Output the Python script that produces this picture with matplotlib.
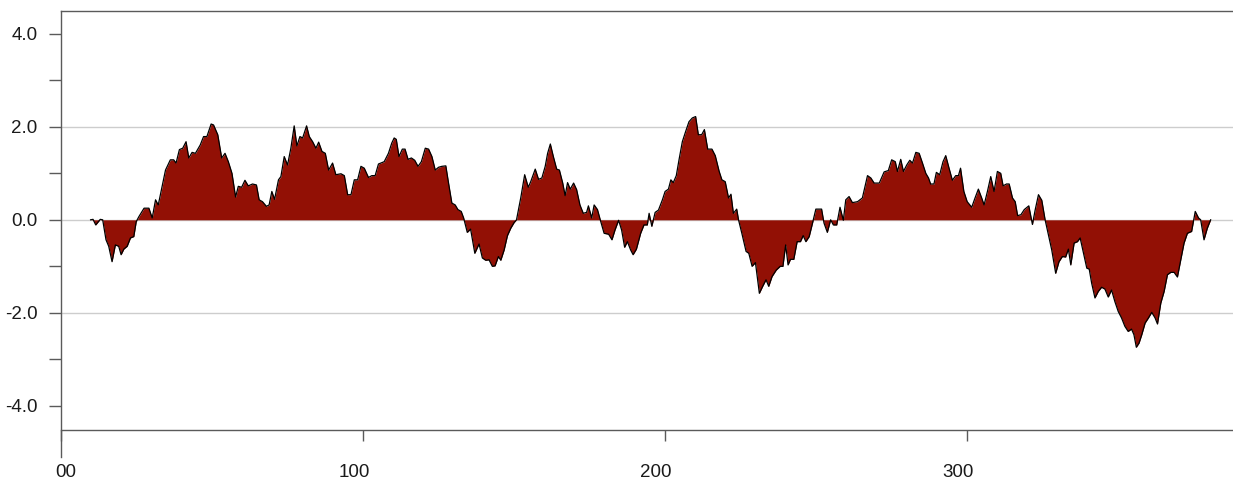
import matplotlib
matplotlib.use("Agg")
import matplotlib.pyplot as plt
import matplotlib.transforms as mtransforms
import numpy as np

# Series positions and values
days = [
    9.8, 10.6, 11.5, 13.0, 13.8, 14.9, 15.8, 16.9, 18.0, 19.1, 19.9, 20.8, 21.9, 23.0, 24.1,
    24.9, 25.8, 27.5, 29.1, 30.2, 31.3, 32.2, 33.5, 34.6, 36.2, 37.3, 38.1, 39.2, 40.3, 41.4,
    42.3, 43.4, 44.5, 46.1, 47.2, 48.3, 49.7, 50.5, 51.9, 53.2, 54.3, 55.4, 56.6, 57.8, 58.7,
    59.8, 60.9, 62.0, 63.4, 64.7, 65.6, 66.7, 68.0, 68.9, 69.8, 70.7, 72.0, 72.8, 73.9, 75.0,
    76.1, 77.2, 78.1, 79.1, 80.0, 81.3, 82.2, 83.3, 84.4, 85.3, 86.4, 87.5, 88.6, 89.9, 91.0,
    92.7, 93.8, 94.9, 96.0, 97.1, 98.2, 99.3, 100.4, 101.8, 102.9, 104.0, 105.1, 107.0, 108.4,
    109.5, 110.3, 111.0, 111.9, 113.0, 113.9, 114.9, 116.0, 117.1, 118.2, 119.3, 120.6, 121.7,
    122.8, 123.9, 125.0, 126.1, 127.4, 128.3, 129.4, 130.5, 131.4, 132.5, 133.3, 134.5, 135.6,
    137.0, 138.4, 139.5, 140.6, 141.7, 142.8, 143.7, 144.8, 145.6, 146.7, 147.8, 148.9, 150.0,
    150.8, 152.2, 153.5, 154.7, 155.5, 157.0, 158.1, 159.2, 160.3, 161.1, 162.0, 163.0, 164.1,
    165.0, 166.1, 166.9, 167.7, 168.6, 169.7, 170.7, 171.8, 172.9, 174.0, 174.6, 175.7, 176.5,
    177.6, 178.7, 179.8, 181.3, 182.4, 183.4, 184.6, 185.6, 186.6, 187.5, 188.6, 189.4, 190.5,
    191.9, 193.0, 194.1, 194.7, 195.6, 196.7, 197.8, 199.1, 200.0, 201.1, 201.9, 202.7, 203.7,
    204.6, 205.7, 206.8, 207.9, 209.0, 210.1, 211.0, 212.1, 213.0, 214.1, 215.5, 216.6, 217.9,
    218.8, 219.9, 221.0, 221.8, 222.6, 223.7, 224.3, 225.4, 226.8, 227.7, 228.8, 229.9, 231.2,
    232.3, 233.4, 234.3, 235.4, 236.8, 238.1, 239.0, 239.9, 240.7, 241.5, 242.6, 243.7, 244.8,
    245.7, 246.6, 247.7, 248.8, 249.9, 251.8, 252.6, 253.7, 254.8, 255.7, 256.8, 257.9, 259.0,
    259.8, 260.9, 262.0, 263.7, 265.3, 267.0, 268.1, 269.2, 270.9, 272.5, 273.9, 275.0, 276.2,
    276.9, 278.0, 278.9, 280.0, 281.0, 281.9, 283.0, 284.1, 285.2, 286.3, 287.2, 287.9, 289.0,
    289.8, 290.9, 292.0, 292.9, 294.0, 295.1, 296.2, 297.1, 297.8, 298.9, 300.0, 301.5, 302.6,
    303.7, 304.8, 305.6, 306.7, 307.8, 308.9, 310.0, 311.1, 311.9, 313.0, 313.9, 315.0, 315.9,
    316.7, 317.8, 318.9, 320.4, 321.6, 322.5, 323.6, 324.7, 325.8, 326.9, 328.0, 329.3, 330.4,
    331.5, 332.6, 333.5, 334.3, 335.4, 336.5, 337.4, 338.5, 339.6, 340.4, 341.2, 342.3, 343.4,
    344.5, 345.6, 346.7, 347.8, 348.9, 350.0, 351.1, 352.2, 353.3, 354.4, 355.2, 356.0, 356.9,
    357.8, 358.9, 360.0, 361.1, 362.2, 363.0, 364.1, 365.2, 366.3, 367.4, 368.5, 369.6, 370.7,
    371.8, 372.9, 374.3, 375.5, 376.6, 377.3, 378.4, 379.5, 380.6,
]
values = [
    0.00, 0.01, -0.11, 0.01, 0.00, -0.43, -0.57, -0.90, -0.54, -0.57, -0.75, -0.63, -0.57, -0.39, -0.36,
    -0.04, 0.07, 0.25, 0.25, 0.04, 0.43, 0.32, 0.72, 1.07, 1.29, 1.29, 1.22, 1.51, 1.54, 1.68,
    1.33, 1.45, 1.43, 1.61, 1.79, 1.79, 2.06, 2.04, 1.83, 1.33, 1.43, 1.25, 1.00, 0.49, 0.72,
    0.70, 0.85, 0.73, 0.77, 0.75, 0.43, 0.39, 0.29, 0.32, 0.61, 0.44, 0.86, 0.93, 1.36, 1.18,
    1.54, 2.02, 1.59, 1.79, 1.76, 2.02, 1.79, 1.68, 1.54, 1.67, 1.47, 1.43, 1.07, 1.22, 0.97,
    0.99, 0.95, 0.54, 0.54, 0.86, 0.86, 1.15, 1.11, 0.91, 0.95, 0.95, 1.20, 1.25, 1.43,
    1.65, 1.76, 1.73, 1.36, 1.52, 1.52, 1.30, 1.33, 1.28, 1.15, 1.25, 1.54, 1.52,
    1.36, 1.07, 1.13, 1.15, 1.16, 0.79, 0.36, 0.32, 0.22, 0.18, 0.04, -0.27, -0.20,
    -0.72, -0.52, -0.82, -0.87, -0.86, -1.00, -0.99, -0.79, -0.87, -0.65, -0.34, -0.18, -0.06,
    0.00, 0.47, 0.97, 0.70, 0.82, 1.09, 0.87, 0.90, 1.15, 1.43, 1.63, 1.36, 1.09,
    1.07, 0.79, 0.52, 0.80, 0.66, 0.79, 0.65, 0.32, 0.14, 0.16, 0.30, 0.04, 0.32,
    0.22, -0.04, -0.29, -0.31, -0.43, -0.22, -0.01, -0.22, -0.59, -0.47, -0.65, -0.75, -0.63,
    -0.29, -0.11, -0.11, 0.14, -0.14, 0.16, 0.21, 0.43, 0.61, 0.66, 0.86, 0.80, 0.95,
    1.29, 1.68, 1.90, 2.11, 2.19, 2.22, 1.83, 1.83, 1.94, 1.52, 1.52, 1.38, 1.04,
    0.86, 0.82, 0.47, 0.55, 0.14, 0.23, 0.00, -0.29, -0.68, -0.72, -1.00, -0.92, -1.58,
    -1.43, -1.29, -1.43, -1.22, -1.08, -1.00, -1.00, -0.54, -0.97, -0.85, -0.85, -0.47, -0.47,
    -0.34, -0.47, -0.36, -0.07, 0.23, 0.23, -0.07, -0.27, 0.00, -0.11, -0.11, 0.27, -0.01,
    0.43, 0.50, 0.37, 0.39, 0.47, 0.95, 0.90, 0.79, 0.79, 1.03, 1.06, 1.29, 1.25,
    1.04, 1.30, 1.04, 1.18, 1.28, 1.22, 1.45, 1.43, 1.22, 1.00, 0.90, 0.77, 0.77,
    1.02, 0.97, 1.25, 1.38, 1.11, 0.85, 0.95, 0.95, 1.11, 0.61, 0.39, 0.27, 0.47,
    0.66, 0.47, 0.32, 0.61, 0.93, 0.61, 1.04, 1.00, 0.73, 0.77, 0.77, 0.47, 0.39,
    0.09, 0.11, 0.22, 0.30, -0.10, 0.21, 0.54, 0.42, 0.00, -0.32, -0.65, -1.15, -0.90,
    -0.79, -0.80, -0.63, -0.97, -0.50, -0.47, -0.39, -0.72, -1.04, -1.06, -1.36, -1.68, -1.54,
    -1.45, -1.49, -1.66, -1.51, -1.76, -1.97, -2.11, -2.29, -2.40, -2.35, -2.47, -2.74, -2.65,
    -2.47, -2.22, -2.11, -1.99, -2.11, -2.24, -1.79, -1.54, -1.18, -1.13, -1.13, -1.23, -0.86,
    -0.50, -0.29, -0.25, 0.18, 0.04, 0.00, -0.43, -0.18, 0.00,
]

y_ticks = [-4, -2, 0, 2, 4]
y_minor = [-3, -1, 1, 3]
grid_levels = [-2, 0, 2]
x_ticks = [0, 100, 200, 300]
x_labels = ["00", "100", "200", "300"]

FILL = "#921005"
AXIS = "#5a5a5a"

plt.rcParams["font.family"] = ["Liberation Sans", "DejaVu Sans"]

fig = plt.figure(figsize=(12.33, 4.88), dpi=100)
W, H = 1233, 488
ax = fig.add_axes([61 / W, 1 - 457 / H, 1 - 61 / W, (457 - 11) / H])
ax.set_xlim(0, 388)
ax.set_ylim(-5.1, 4.49)

for lvl in grid_levels:
    ax.axhline(lvl, color="#cdcdcd", lw=1.0, zorder=0)

x = np.array(days)
y = np.array(values)
ax.fill_between(x, y, 0, color=FILL, lw=0, zorder=2)
ax.plot(x, y, color="black", lw=0.9, zorder=3)

# spines
ax.spines["right"].set_visible(False)
ax.spines["bottom"].set_position(("data", -4.53))
for side in ("left", "top", "bottom"):
    ax.spines[side].set_color(AXIS)
    ax.spines[side].set_linewidth(1.0)

ax.set_yticks(y_ticks)
ax.set_yticklabels([f"{v:.1f}" for v in y_ticks])
ax.set_yticks(y_minor, minor=True)
ax.tick_params(axis="y", which="both", direction="out", length=9, width=1,
               color=AXIS, labelsize=13.5, labelcolor="#1a1a1a", pad=8)

ax.set_xticks(x_ticks)
ax.set_xticklabels(x_labels)
ax.tick_params(axis="x", direction="out", length=8, width=1, color=AXIS,
               labelsize=13.5, labelcolor="#1a1a1a", pad=16)

# nudge x labels sideways
for lab, dx in zip(ax.get_xticklabels(), [5, -9, -9, -9]):
    lab.set_transform(lab.get_transform() +
                      mtransforms.ScaledTranslation(dx / 100, 0, fig.dpi_scale_trans))

fig.savefig("out.png", dpi=100, facecolor="white")
